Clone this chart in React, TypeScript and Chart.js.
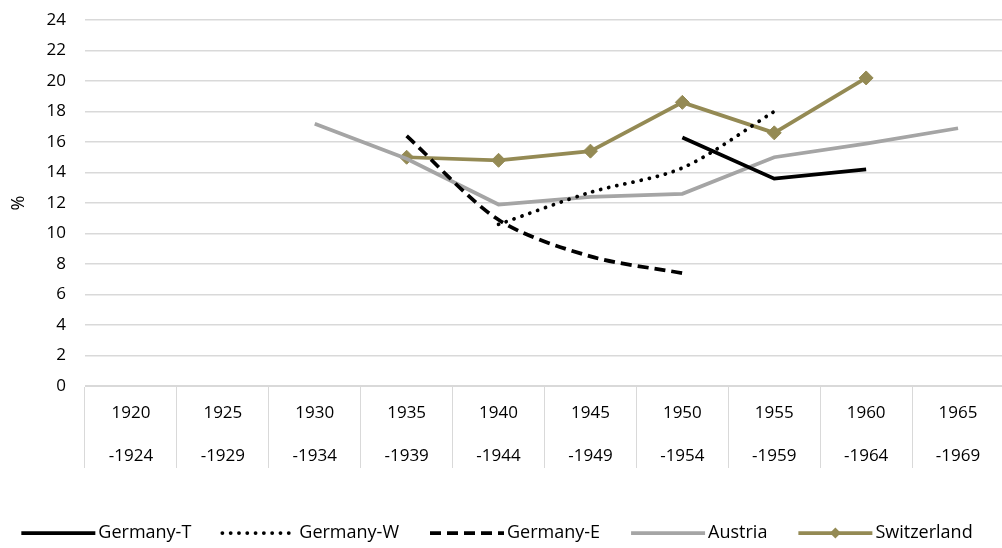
import React, { useEffect, useRef } from "react";
import { Chart, registerables } from "chart.js";

Chart.register(...registerables);

const categories: string[][] = [
  ["1920", "-1924"], ["1925", "-1929"], ["1930", "-1934"], ["1935", "-1939"], ["1940", "-1944"],
  ["1945", "-1949"], ["1950", "-1954"], ["1955", "-1959"], ["1960", "-1964"], ["1965", "-1969"],
];
const germanyT: (number | null)[] = [null, null, null, null, null, null, 16.3, 13.6, 14.2, null];
const germanyW: (number | null)[] = [null, null, null, null, 10.6, 12.7, 14.3, 18.0, null, null];
const germanyE: (number | null)[] = [null, null, null, 16.4, 10.9, 8.5, 7.4, null, null, null];
const austria: (number | null)[] = [null, null, 17.2, 14.9, 11.9, 12.4, 12.6, 15.0, 15.9, 16.9];
const switzerland: (number | null)[] = [null, null, null, 15.0, 14.8, 15.4, 18.6, 16.6, 20.2, null];
const yTicks: number[] = [0, 2, 4, 6, 8, 10, 12, 14, 16, 18, 20, 22, 24];

const FONT = "'Open Sans', sans-serif";

const legendPlugin = {
  id: "customLegend",
  afterDraw(chart: any) {
    const ctx = chart.ctx as CanvasRenderingContext2D;
    const ds = chart.data.datasets;
    ctx.save();
    ctx.font = `18px ${FONT}`;
    const sampleW = 74, textGap = 3, itemGap = 31;
    const widths = ds.map((d: any) => ctx.measureText(d.label).width);
    const total = widths.reduce((a: number, b: number) => a + b, 0) + ds.length * (sampleW + textGap) + (ds.length - 1) * itemGap;
    let x = 497 - total / 2;
    const y = 533;
    ds.forEach((d: any, i: number) => {
      ctx.save();
      ctx.beginPath();
      ctx.strokeStyle = d.borderColor;
      ctx.lineWidth = d.borderWidth;
      ctx.lineCap = d.borderCapStyle || "butt";
      ctx.setLineDash(d.borderDash || []);
      ctx.moveTo(x, y);
      ctx.lineTo(x + sampleW, y);
      ctx.stroke();
      if (d.pointRadius && d.pointRadius > 0) {
        ctx.setLineDash([]);
        ctx.fillStyle = d.pointBackgroundColor;
        const r = 5.5;
        const cx = x + sampleW / 2;
        ctx.beginPath();
        ctx.moveTo(cx, y - r);
        ctx.lineTo(cx + r, y);
        ctx.lineTo(cx, y + r);
        ctx.lineTo(cx - r, y);
        ctx.closePath();
        ctx.fill();
      }
      ctx.restore();
      x += sampleW + textGap;
      ctx.fillStyle = "#000000";
      ctx.textBaseline = "middle";
      ctx.textAlign = "left";
      ctx.fillText(d.label, x, y);
      x += widths[i] + itemGap;
    });
    ctx.restore();
  },
};

export default function App() {
  const ref = useRef<HTMLCanvasElement | null>(null);
  useEffect(() => {
    if (!ref.current) return;
    const chart = new Chart(ref.current, {
      type: "line",
      data: {
        labels: categories,
        datasets: [
          { label: "Germany-T", data: germanyT, borderColor: "#000000", backgroundColor: "#000000", borderWidth: 3.75, pointRadius: 0, tension: 0 },
          { label: "Germany-W", data: germanyW, borderColor: "#000000", backgroundColor: "#000000", borderWidth: 3.75, borderDash: [0.1, 8.2], borderCapStyle: "round", pointRadius: 0, tension: 0.3 },
          { label: "Germany-E", data: germanyE, borderColor: "#000000", backgroundColor: "#000000", borderWidth: 3.75, borderDash: [11, 6], pointRadius: 0, tension: 0.3 },
          { label: "Austria", data: austria, borderColor: "#A5A5A5", backgroundColor: "#A5A5A5", borderWidth: 3.75, pointRadius: 0, tension: 0 },
          { label: "Switzerland", data: switzerland, borderColor: "#948A54", backgroundColor: "#948A54", borderWidth: 3.75, pointRadius: 7, pointHoverRadius: 7, pointStyle: "rectRot", pointBackgroundColor: "#948A54", pointBorderColor: "#948A54", pointBorderWidth: 1, tension: 0 },
        ] as any,
      },
      options: {
        responsive: false,
        animation: false,
        spanGaps: false,
        layout: { padding: { left: 0, right: 4, top: 20, bottom: 80 } },
        plugins: { legend: { display: false }, tooltip: { enabled: false } },
        scales: {
          x: {
            offset: true,
            grid: { display: true, offset: true, drawOnChartArea: false, drawTicks: true, tickLength: 82, color: "#D9D9D9", lineWidth: 1 },
            border: { display: true, color: "#D9D9D9", width: 1 },
            ticks: { color: "#000000", font: { family: FONT, size: 17, lineHeight: "43px" }, padding: -76.5, maxRotation: 0, autoSkip: false },
            afterFit(scale: any) {
              scale.height = 82;
              scale.paddingTop = 0; scale.paddingBottom = 0; scale.paddingLeft = 0; scale.paddingRight = 0;
            },
          },
          y: {
            min: 0,
            max: 24,
            afterBuildTicks(scale: any) { scale.ticks = yTicks.map((v) => ({ value: v })); },
            grid: { color: "#D9D9D9", lineWidth: 1.5, drawTicks: false },
            border: { display: false },
            ticks: { color: "#000000", font: { family: FONT, size: 17 }, padding: 19 },
            title: { display: true, text: "%", color: "#000000", font: { family: FONT, size: 18 }, padding: { top: 8, bottom: 0 } },
            afterFit(scale: any) {
              scale.width = 85;
              scale.paddingTop = 0; scale.paddingBottom = 0; scale.paddingLeft = 0; scale.paddingRight = 0;
            },
          },
        },
      },
      plugins: [legendPlugin],
    });
    return () => chart.destroy();
  }, []);
  return (
    <div style={{ position: "fixed", left: 0, top: 0, width: 1002, height: 548, overflow: "hidden", background: "#ffffff" }}>
      <canvas ref={ref} width={1012} height={548} style={{ width: 1012, height: 548, display: "block" }} />
    </div>
  );
}
